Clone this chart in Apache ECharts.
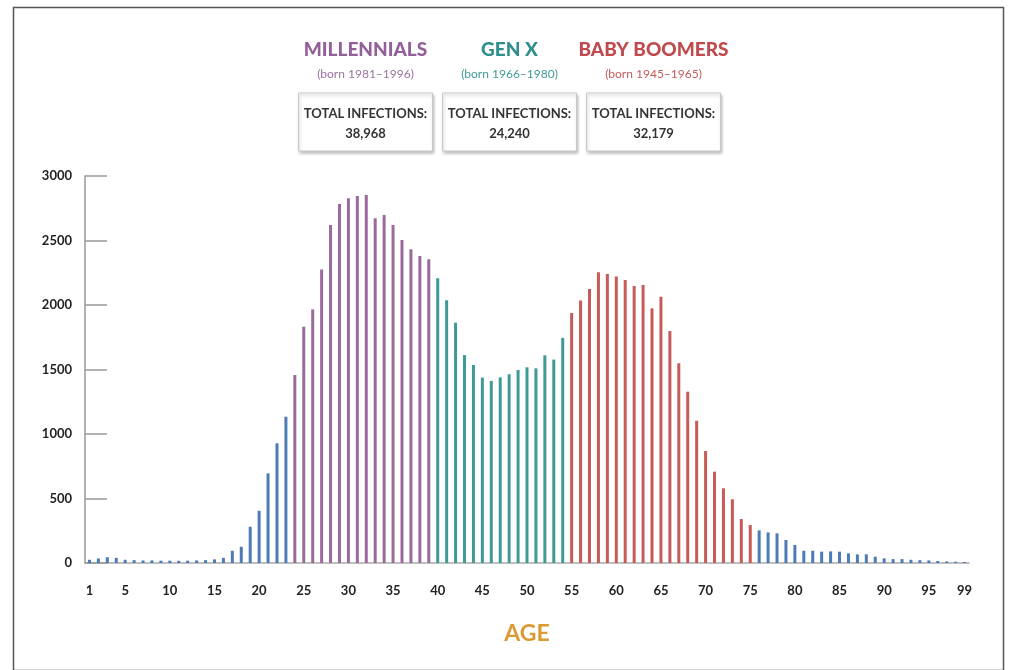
<!DOCTYPE html>
<html>
<head>
<meta charset="utf-8">
<script src="https://cdn.jsdelivr.net/npm/echarts@6/dist/echarts.min.js"></script>
<style>
  html, body { margin: 0; padding: 0; background: #fff; }
  #chart { width: 1010px; height: 670px; }
</style>
</head>
<body>
<div id="chart"></div>
<script>
// ---- Data ----
const ages = [
  1, 2, 3, 4, 5, 6, 7, 8, 9, 10,
  11, 12, 13, 14, 15, 16, 17, 18, 19, 20,
  21, 22, 23, 24, 25, 26, 27, 28, 29, 30,
  31, 32, 33, 34, 35, 36, 37, 38, 39, 40,
  41, 42, 43, 44, 45, 46, 47, 48, 49, 50,
  51, 52, 53, 54, 55, 56, 57, 58, 59, 60,
  61, 62, 63, 64, 65, 66, 67, 68, 69, 70,
  71, 72, 73, 74, 75, 76, 77, 78, 79, 80,
  81, 82, 83, 84, 85, 86, 87, 88, 89, 90,
  91, 92, 93, 94, 95, 96, 97, 98, 99
];
const infections = [
  25, 35, 45, 40, 25, 22, 20, 20, 18, 18,
  17, 18, 20, 22, 28, 40, 95, 126, 281, 405,
  695, 928, 1134, 1457, 1832, 1966, 2276, 2620, 2783, 2827,
  2845, 2853, 2672, 2698, 2620, 2504, 2432, 2380, 2354, 2207,
  2036, 1863, 1612, 1535, 1437, 1411, 1439, 1463, 1496, 1517,
  1509, 1610, 1577, 1745, 1938, 2034, 2124, 2253, 2240, 2220,
  2194, 2147, 2155, 1974, 2064, 1798, 1548, 1328, 1103, 868,
  708, 579, 494, 341, 295, 253, 237, 230, 178, 140,
  95, 95, 88, 90, 88, 75, 67, 67, 49, 36,
  30, 30, 25, 22, 20, 15, 12, 10, 8
];
const tickAges = [1, 5, 10, 15, 20, 25, 30, 35, 40, 45, 50, 55, 60, 65, 70, 75, 80, 85, 90, 95, 99];
const yTicks = [0, 500, 1000, 1500, 2000, 2500, 3000];

const groupNames  = ['MILLENNIALS', 'GEN X', 'BABY BOOMERS'];
const groupBorn   = ['(born 1981–1996)', '(born 1966–1980)', '(born 1945–1965)'];
const groupTotals = ['38,968', '24,240', '32,179'];
const groupAgeFrom = [24, 40, 55];
const groupAgeTo   = [39, 54, 75];

// ---- Styles ----
const groupColors = ['#93609a', '#2f8f8c', '#c04a4d'];
const groupSubColors = ['#9a72a0', '#3f9a97', '#c45a5a'];
const otherColor = '#4d7bb8';
const fontFam = 'Lato, "Open Sans", sans-serif';

function colorForAge(age) {
  for (let i = 0; i < groupNames.length; i++) {
    if (age >= groupAgeFrom[i] && age <= groupAgeTo[i]) return groupColors[i];
  }
  return otherColor;
}
const barColors = ['#9b6a9d', '#3f9a97', '#c65b58'];
function barColorForAge(age) {
  for (let i = 0; i < groupNames.length; i++) {
    if (age >= groupAgeFrom[i] && age <= groupAgeTo[i]) return barColors[i];
  }
  return otherColor;
}

const seriesData = ages.map((a, i) => ({
  value: infections[i],
  itemStyle: { color: barColorForAge(a) }
}));

// Header graphic
const boxCenters = [365.5, 509.5, 653.5];
const boxW = 134, boxH = 58, boxTop = 93;
const graphics = [
  { type: 'rect', left: 11, top: 5, z: -1,
    shape: { width: 990, height: 663 },
    style: { fill: 'none', stroke: '#555', lineWidth: 1.5 } }
];
for (let i = 0; i < groupNames.length; i++) {
  const cx = boxCenters[i];
  graphics.push({
    type: 'text', x: cx, y: 50,
    style: { text: groupNames[i], fill: groupColors[i], font: '900 19px ' + fontFam,
             textAlign: 'center', textVerticalAlign: 'middle' }
  });
  graphics.push({
    type: 'text', x: cx, y: 74,
    style: { text: groupBorn[i], fill: groupSubColors[i], font: '12px ' + fontFam,
             textAlign: 'center', textVerticalAlign: 'middle' }
  });
  graphics.push({
    type: 'rect', shape: { x: cx - boxW / 2, y: boxTop, width: boxW, height: boxH },
    style: { fill: '#fff', stroke: '#c8c8c8', lineWidth: 1,
             shadowBlur: 3, shadowOffsetY: 2, shadowOffsetX: 1, shadowColor: 'rgba(0,0,0,0.25)' }
  });
  graphics.push({
    type: 'text', x: cx, y: 114,
    style: { text: 'TOTAL INFECTIONS:', fill: '#333', font: 'bold 13px ' + fontFam,
             textAlign: 'center', textVerticalAlign: 'middle' }
  });
  graphics.push({
    type: 'text', x: cx, y: 134,
    style: { text: groupTotals[i], fill: '#333', font: 'bold 13px ' + fontFam,
             textAlign: 'center', textVerticalAlign: 'middle' }
  });
}
graphics.push({
  type: 'text', x: 527, y: 634,
  style: { text: 'AGE', fill: '#dc9a35', font: 'bold 23px ' + fontFam,
           textAlign: 'center', textVerticalAlign: 'middle' }
});

const chart = echarts.init(document.getElementById('chart'), null, { renderer: 'canvas' });
chart.setOption({
  backgroundColor: '#fff',
  animation: false,
  grid: { left: 85, right: 41, top: 176, bottom: 107, containLabel: false },
  xAxis: {
    type: 'category',
    data: ages,
    boundaryGap: true,
    axisLine: { show: true, lineStyle: { color: '#aaa', width: 1.5 } },
    axisTick: { show: false },
    axisLabel: {
      margin: 21,
      color: '#222',
      fontFamily: fontFam,
      fontWeight: 'bold',
      fontSize: 13,
      interval: (idx, val) => tickAges.indexOf(Number(val)) >= 0
    }
  },
  yAxis: {
    type: 'value',
    min: yTicks[0],
    max: yTicks[yTicks.length - 1],
    interval: 500,
    axisLine: { show: true, lineStyle: { color: '#999', width: 1.5 } },
    axisTick: { show: true, inside: true, length: 22, lineStyle: { color: '#999', width: 1.5 } },
    splitLine: { show: false },
    axisLabel: {
      margin: 13,
      color: '#222',
      fontFamily: fontFam,
      fontWeight: 'bold',
      fontSize: 13,
      padding: [8, 0, 0, 0],
      formatter: (v) => String(v)
    }
  },
  series: [{
    type: 'bar',
    data: seriesData,
    barWidth: 3
  }],
  graphic: graphics
});
</script>
</body>
</html>
